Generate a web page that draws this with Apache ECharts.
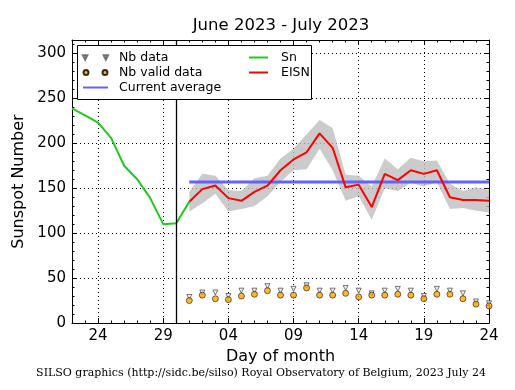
<!DOCTYPE html>
<html><head><meta charset="utf-8">
<script src="https://cdn.jsdelivr.net/npm/echarts@6/dist/echarts.min.js"></script>
<style>html,body{margin:0;padding:0;background:#fff}#c{width:515px;height:390px}</style>
</head><body><div id="c"></div>
<script>
const days = ['06-22','06-23','06-24','06-25','06-26','06-27','06-28','06-29','06-30','07-01','07-02','07-03','07-04','07-05','07-06','07-07','07-08','07-09','07-10','07-11','07-12','07-13','07-14','07-15','07-16','07-17','07-18','07-19','07-20','07-21','07-22','07-23','07-24'];
const majorDays = ['06-24','06-29','07-04','07-09','07-14','07-19','07-24'];
const tickLabels = ['24','29','04','09','14','19','24'];
const snDays = ['06-22','06-23','06-24','06-25','06-26','06-27','06-28','06-29','06-30','07-01'];
const snValues = [239,231,223,206,175,160,139,110,111,135];
const eisnDays = ['07-01','07-02','07-03','07-04','07-05','07-06','07-07','07-08','07-09','07-10','07-11','07-12','07-13','07-14','07-15','07-16','07-17','07-18','07-19','07-20','07-21','07-22','07-23','07-24'];
const eisnValues = [135,149,153,139,136,146,153,170,182,190,211,195,151,154,129,166,159,170,166,170,140,137,137,136];
const eisnLow = [124,133,144,124,127,130,141,157,170,171,194,170,136,141,115,150,147,156,152,157,127,128,125,123];
const eisnHigh = [146,166,164,148,147,161,164,183,194,210,226,217,165,164,152,183,171,184,180,181,155,147,151,148];
const nbData = [29,34,34,30,36,36,41,36,38,42,36,36,39,36,33,36,38,36,30,38,36,33,24,22];
const nbValid = [25,31,27,26,30,32,36,31,31,39,31,31,33,29,31,31,32,31,27,32,32,27,21,19];
const avgDays = ['07-01','07-24'];
const avgValue = 157;
const markerDay = '06-30';

const FONT = 'DejaVu Sans';
const isMajor = (i, v) => majorDays.indexOf(v) >= 0;
const pairs = (xs, ys) => xs.map((x, i) => [x, ys[i]]);

function xAx(pos, major) {
  return {
    type: 'category', data: days, boundaryGap: false, position: pos,
    axisLine: { show: major, onZero: false, lineStyle: { color: '#000', width: 1 } },
    axisTick: { show: true, inside: true, length: major ? 5 : 2.5, interval: major ? isMajor : 0, lineStyle: { color: '#000', width: 1 } },
    axisLabel: { show: major && pos === 'bottom', interval: isMajor, formatter: v => tickLabels[majorDays.indexOf(v)], color: '#000', fontSize: 15, fontFamily: FONT, margin: 6 },
    splitLine: { show: major && pos === 'bottom', interval: isMajor, lineStyle: { type: [1, 3], color: '#000', width: 1 } },
    name: (major && pos === 'bottom') ? 'Day of month' : '',
    nameLocation: 'middle', nameGap: 26,
    nameTextStyle: { fontSize: 16, color: '#000', fontFamily: FONT }
  };
}
function yAx(pos, major) {
  return {
    type: 'value', min: 0, max: 315, interval: major ? 50 : 10, position: pos,
    axisLine: { show: major, onZero: false, lineStyle: { color: '#000', width: 1 } },
    axisTick: { show: true, inside: true, length: major ? 5 : 2.5, lineStyle: { color: '#000', width: 1 } },
    axisLabel: { show: major && pos === 'left', showMaxLabel: false, color: '#000', fontSize: 15, fontFamily: FONT, margin: 6 },
    splitLine: { show: major && pos === 'left', lineStyle: { type: [1, 3], color: '#000', width: 1 } },
    name: (major && pos === 'left') ? 'Sunspot Number' : '',
    nameLocation: 'middle', nameGap: 32, nameRotate: 90,
    nameTextStyle: { fontSize: 16, color: '#000', fontFamily: FONT }
  };
}

const triIcon = 'path://M1,0L5,0L3,4Z M20,0L24,0L22,4Z';
const circIcon = 'path://M0,2.5A2.5,2.5,0,1,1,5,2.5A2.5,2.5,0,1,1,0,2.5Z M19,2.5A2.5,2.5,0,1,1,24,2.5A2.5,2.5,0,1,1,19,2.5Z';
const hideSym = { opacity: 0 };

const chart = echarts.init(document.getElementById('c'), null, { renderer: 'canvas' });
chart.setOption({
  animation: false,
  backgroundColor: '#fff',
  textStyle: { fontFamily: FONT },
  grid: { left: 72, right: 26, top: 40, bottom: 67, containLabel: false },
  xAxis: [xAx('bottom', true), xAx('bottom', false), xAx('top', true), xAx('top', false)],
  yAxis: [yAx('left', true), yAx('left', false), yAx('right', true), yAx('right', false)],
  legend: [
    { left: 82, top: 51, orient: 'vertical', padding: 0, itemWidth: 25, itemHeight: 5, itemGap: 2, z: 10,
      data: [{ name: 'Nb data', icon: triIcon, itemStyle: { color: '#bbbbbb' } }, { name: 'Nb valid data', icon: circIcon }, { name: 'Current average', itemStyle: hideSym }],
      textStyle: { fontSize: 12.5, color: '#000', fontFamily: FONT, padding: [0, 0, 0, 6] } },
    { left: 248, top: 51, orient: 'vertical', padding: 0, itemWidth: 19, itemHeight: 5, itemGap: 2, z: 10,
      data: [{ name: 'Sn', itemStyle: hideSym }, { name: 'EISN', itemStyle: hideSym }],
      textStyle: { fontSize: 12.5, color: '#000', fontFamily: FONT, padding: [0, 0, 0, 8] } }
  ],
  graphic: [
    { type: 'rect', z: 8, shape: { x: 77.5, y: 45.5, width: 234, height: 54 }, style: { fill: '#fff', stroke: '#000', lineWidth: 1 } },
    { type: 'text', z: 8, x: 281, y: 26, style: { text: 'June 2023 - July 2023', font: '16.5px "DejaVu Sans"', fill: '#000', align: 'center', verticalAlign: 'middle' } },
    { type: 'text', z: 8, x: 261, y: 373, style: { text: 'SILSO graphics (http://sidc.be/silso) Royal Observatory of Belgium, 2023 July 24', font: '11px "DejaVu Serif"', fill: '#000', align: 'center', verticalAlign: 'middle' } }
  ],
  series: [
    { name: 'bandLow', type: 'line', stack: 'band', data: pairs(eisnDays, eisnLow), symbol: 'none', lineStyle: { opacity: 0 }, silent: true, z: 1 },
    { name: 'bandHigh', type: 'line', stack: 'band', data: pairs(eisnDays, eisnHigh.map((h, i) => h - eisnLow[i])), symbol: 'none', lineStyle: { opacity: 0 }, areaStyle: { color: '#bcbcbc', opacity: 0.78 }, silent: true, z: 1 },
    { name: 'Current average', type: 'line', data: pairs(avgDays, [avgValue, avgValue]), symbol: 'none', lineStyle: { color: '#6262ff', width: 3 }, itemStyle: { color: '#6262ff' }, z: 2 },
    { name: 'Sn', type: 'line', data: pairs(snDays, snValues), symbol: 'none', lineStyle: { color: '#22c822', width: 2 }, itemStyle: { color: '#22c822' }, z: 3,
      markLine: { silent: true, symbol: 'none', label: { show: false }, lineStyle: { color: '#000', type: 'solid', width: 1.3 }, data: [{ xAxis: markerDay }] } },
    { name: 'EISN', type: 'line', data: pairs(eisnDays, eisnValues), symbol: 'none', lineStyle: { color: '#ff0000', width: 2 }, itemStyle: { color: '#ff0000' }, z: 4 },
    { name: 'Nb data', type: 'scatter', data: pairs(eisnDays, nbData), symbol: 'triangle', symbolRotate: 180, symbolSize: 5, itemStyle: { color: '#eeeeee', borderColor: '#555', borderWidth: 1 }, z: 5 },
    { name: 'Nb valid data', type: 'scatter', data: pairs(eisnDays, nbValid), symbol: 'circle', symbolSize: 6, itemStyle: { color: '#ffa500', borderColor: '#000', borderWidth: 0.7 }, z: 6 }
  ]
});
</script></body></html>
